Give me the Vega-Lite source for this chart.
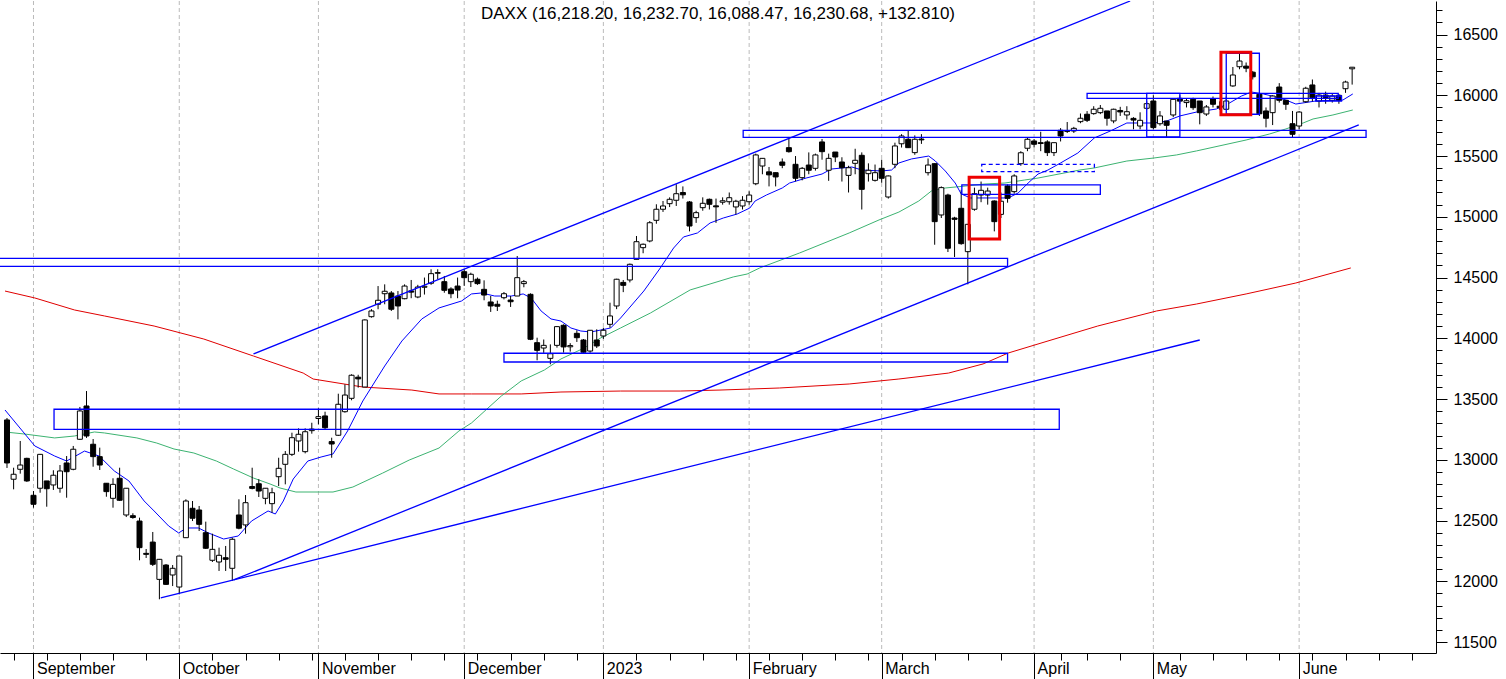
{
  "$schema": "https://vega.github.io/schema/vega-lite/v6.json",
  "width": 1436,
  "height": 652,
  "padding": 0,
  "autosize": {"type": "pad"},
  "background": "white",
  "title": {
    "text": "DAXX (16,218.20, 16,232.70, 16,088.47, 16,230.68, +132.810)",
    "offset": -22,
    "anchor": "middle",
    "font": "Liberation Sans",
    "fontSize": 17,
    "fontWeight": "normal",
    "color": "black"
  },
  "datasets": {
    "months": [
      {"i": 0}, {"i": 22}, {"i": 43}, {"i": 65}, {"i": 86},
      {"i": 108}, {"i": 128}, {"i": 151}, {"i": 169}, {"i": 191}
    ],
    "candles": [
      {"i":-4,"o":13328,"h":13344,"l":12933,"c":12974},
      {"i":-3,"o":12840,"h":12935,"l":12757,"c":12881},
      {"i":-2,"o":12922,"h":13155,"l":12886,"c":12957},
      {"i":-1,"o":13012,"h":13017,"l":12818,"c":12826},
      {"i":0,"o":12708,"h":12743,"l":12606,"c":12634},
      {"i":1,"o":12766,"h":13048,"l":12729,"c":13045},
      {"i":2,"o":12826,"h":12826,"l":12614,"c":12762},
      {"i":3,"o":12793,"h":12914,"l":12752,"c":12873},
      {"i":4,"o":12766,"h":12957,"l":12729,"c":12908},
      {"i":5,"o":12974,"h":13031,"l":12688,"c":12902},
      {"i":6,"o":12922,"h":13114,"l":12914,"c":13087},
      {"i":7,"o":13169,"h":13435,"l":13163,"c":13402},
      {"i":8,"o":13443,"h":13566,"l":13180,"c":13196},
      {"i":9,"o":13128,"h":13171,"l":12943,"c":13026},
      {"i":10,"o":13026,"h":13100,"l":12916,"c":12957},
      {"i":11,"o":12807,"h":12809,"l":12696,"c":12738},
      {"i":12,"o":12683,"h":12848,"l":12606,"c":12798},
      {"i":13,"o":12848,"h":12935,"l":12661,"c":12667},
      {"i":14,"o":12546,"h":12768,"l":12529,"c":12766},
      {"i":15,"o":12540,"h":12560,"l":12515,"c":12525},
      {"i":16,"o":12496,"h":12524,"l":12173,"c":12277},
      {"i":17,"o":12230,"h":12266,"l":12192,"c":12222},
      {"i":18,"o":12323,"h":12406,"l":12126,"c":12140},
      {"i":19,"o":12016,"h":12184,"l":11852,"c":12181},
      {"i":20,"o":12134,"h":12142,"l":11970,"c":11975},
      {"i":21,"o":12052,"h":12134,"l":11961,"c":12107},
      {"i":22,"o":11953,"h":12208,"l":11893,"c":12208},
      {"i":23,"o":12359,"h":12675,"l":12359,"c":12661},
      {"i":24,"o":12601,"h":12661,"l":12496,"c":12519},
      {"i":25,"o":12587,"h":12620,"l":12414,"c":12469},
      {"i":26,"o":12400,"h":12491,"l":12266,"c":12272},
      {"i":27,"o":12173,"h":12392,"l":12159,"c":12263},
      {"i":28,"o":12159,"h":12277,"l":12085,"c":12214},
      {"i":29,"o":12194,"h":12291,"l":12085,"c":12181},
      {"i":30,"o":12107,"h":12359,"l":12003,"c":12346},
      {"i":31,"o":12546,"h":12675,"l":12428,"c":12437},
      {"i":32,"o":12464,"h":12710,"l":12392,"c":12647},
      {"i":33,"o":12780,"h":12935,"l":12757,"c":12765},
      {"i":34,"o":12803,"h":12840,"l":12694,"c":12743},
      {"i":35,"o":12683,"h":12768,"l":12634,"c":12766},
      {"i":36,"o":12639,"h":12770,"l":12565,"c":12729},
      {"i":37,"o":12861,"h":13017,"l":12784,"c":12930},
      {"i":38,"o":12963,"h":13072,"l":12798,"c":13045},
      {"i":39,"o":13045,"h":13223,"l":13031,"c":13182},
      {"i":40,"o":13155,"h":13259,"l":13067,"c":13210},
      {"i":41,"o":13067,"h":13259,"l":13053,"c":13231},
      {"i":42,"o":13240,"h":13305,"l":13215,"c":13253},
      {"i":43,"o":13340,"h":13424,"l":13292,"c":13355},
      {"i":44,"o":13361,"h":13396,"l":13251,"c":13264},
      {"i":45,"o":13150,"h":13182,"l":13017,"c":13130},
      {"i":46,"o":13202,"h":13544,"l":13196,"c":13457},
      {"i":47,"o":13396,"h":13621,"l":13388,"c":13533},
      {"i":48,"o":13506,"h":13704,"l":13490,"c":13696},
      {"i":49,"o":13680,"h":13700,"l":13594,"c":13666},
      {"i":50,"o":13599,"h":14156,"l":13599,"c":14151},
      {"i":51,"o":14178,"h":14240,"l":14170,"c":14225},
      {"i":52,"o":14280,"h":14430,"l":14239,"c":14313},
      {"i":53,"o":14367,"h":14444,"l":14280,"c":14387},
      {"i":54,"o":14373,"h":14389,"l":14225,"c":14239},
      {"i":55,"o":14348,"h":14389,"l":14156,"c":14266},
      {"i":56,"o":14326,"h":14444,"l":14321,"c":14430},
      {"i":57,"o":14390,"h":14480,"l":14330,"c":14380},
      {"i":58,"o":14340,"h":14440,"l":14330,"c":14422},
      {"i":59,"o":14420,"h":14500,"l":14360,"c":14428},
      {"i":60,"o":14453,"h":14568,"l":14440,"c":14532},
      {"i":61,"o":14535,"h":14568,"l":14486,"c":14541},
      {"i":62,"o":14466,"h":14513,"l":14375,"c":14395},
      {"i":63,"o":14406,"h":14420,"l":14330,"c":14367},
      {"i":64,"o":14430,"h":14500,"l":14330,"c":14397},
      {"i":65,"o":14548,"h":14568,"l":14431,"c":14499},
      {"i":66,"o":14466,"h":14540,"l":14422,"c":14527},
      {"i":67,"o":14486,"h":14500,"l":14440,"c":14450},
      {"i":68,"o":14403,"h":14477,"l":14313,"c":14356},
      {"i":69,"o":14299,"h":14348,"l":14217,"c":14266},
      {"i":70,"o":14280,"h":14310,"l":14225,"c":14264},
      {"i":71,"o":14334,"h":14381,"l":14320,"c":14367},
      {"i":72,"o":14315,"h":14348,"l":14258,"c":14301},
      {"i":73,"o":14348,"h":14677,"l":14348,"c":14499},
      {"i":74,"o":14450,"h":14480,"l":14420,"c":14466},
      {"i":75,"o":14362,"h":14370,"l":13985,"c":13992},
      {"i":76,"o":13964,"h":14005,"l":13819,"c":13901},
      {"i":77,"o":13920,"h":13990,"l":13880,"c":13942},
      {"i":78,"o":13835,"h":13950,"l":13786,"c":13873},
      {"i":79,"o":13942,"h":14101,"l":13923,"c":14096},
      {"i":80,"o":14107,"h":14115,"l":13882,"c":13929},
      {"i":81,"o":13930,"h":13960,"l":13890,"c":13940},
      {"i":82,"o":14041,"h":14066,"l":13970,"c":14005},
      {"i":83,"o":13986,"h":13994,"l":13872,"c":13885},
      {"i":84,"o":13895,"h":14068,"l":13881,"c":14066},
      {"i":85,"o":13986,"h":14074,"l":13920,"c":13937},
      {"i":86,"o":14019,"h":14087,"l":13995,"c":14066},
      {"i":87,"o":14115,"h":14293,"l":14087,"c":14184},
      {"i":88,"o":14266,"h":14490,"l":14240,"c":14486},
      {"i":89,"o":14460,"h":14480,"l":14380,"c":14436},
      {"i":90,"o":14480,"h":14615,"l":14460,"c":14609},
      {"i":91,"o":14650,"h":14842,"l":14650,"c":14795},
      {"i":92,"o":14746,"h":14780,"l":14700,"c":14774},
      {"i":93,"o":14801,"h":14965,"l":14790,"c":14951},
      {"i":94,"o":14971,"h":15103,"l":14943,"c":15062},
      {"i":95,"o":15062,"h":15130,"l":15040,"c":15089},
      {"i":96,"o":15108,"h":15160,"l":15080,"c":15144},
      {"i":97,"o":15136,"h":15268,"l":15089,"c":15190},
      {"i":98,"o":15200,"h":15250,"l":15150,"c":15181},
      {"i":99,"o":15122,"h":15130,"l":14880,"c":14924},
      {"i":100,"o":14993,"h":15050,"l":14950,"c":15034},
      {"i":101,"o":15075,"h":15160,"l":15050,"c":15111},
      {"i":102,"o":15144,"h":15150,"l":15060,"c":15103},
      {"i":103,"o":15090,"h":15150,"l":14950,"c":15082},
      {"i":104,"o":15120,"h":15160,"l":15100,"c":15132},
      {"i":105,"o":15124,"h":15200,"l":15100,"c":15157},
      {"i":106,"o":15081,"h":15140,"l":15020,"c":15128},
      {"i":107,"o":15089,"h":15170,"l":15060,"c":15136},
      {"i":108,"o":15124,"h":15210,"l":15100,"c":15179},
      {"i":109,"o":15272,"h":15520,"l":15260,"c":15509},
      {"i":110,"o":15418,"h":15481,"l":15350,"c":15481},
      {"i":111,"o":15370,"h":15410,"l":15250,"c":15345},
      {"i":112,"o":15363,"h":15365,"l":15250,"c":15328},
      {"i":113,"o":15451,"h":15480,"l":15400,"c":15424},
      {"i":114,"o":15569,"h":15657,"l":15528,"c":15536},
      {"i":115,"o":15432,"h":15500,"l":15292,"c":15317},
      {"i":116,"o":15322,"h":15410,"l":15300,"c":15399},
      {"i":117,"o":15426,"h":15530,"l":15350,"c":15383},
      {"i":118,"o":15399,"h":15520,"l":15380,"c":15509},
      {"i":119,"o":15616,"h":15640,"l":15470,"c":15536},
      {"i":120,"o":15383,"h":15520,"l":15296,"c":15481},
      {"i":121,"o":15533,"h":15533,"l":15450,"c":15492},
      {"i":122,"o":15451,"h":15490,"l":15290,"c":15404},
      {"i":123,"o":15341,"h":15420,"l":15200,"c":15404},
      {"i":124,"o":15440,"h":15560,"l":15350,"c":15465},
      {"i":125,"o":15506,"h":15530,"l":15060,"c":15226},
      {"i":126,"o":15355,"h":15440,"l":15290,"c":15383},
      {"i":127,"o":15300,"h":15430,"l":15290,"c":15363},
      {"i":128,"o":15399,"h":15470,"l":15280,"c":15317},
      {"i":129,"o":15163,"h":15340,"l":15150,"c":15336},
      {"i":130,"o":15432,"h":15610,"l":15400,"c":15583},
      {"i":131,"o":15601,"h":15680,"l":15570,"c":15665},
      {"i":132,"o":15638,"h":15706,"l":15566,"c":15569},
      {"i":133,"o":15528,"h":15670,"l":15510,"c":15638},
      {"i":134,"o":15640,"h":15680,"l":15600,"c":15633},
      {"i":135,"o":15363,"h":15480,"l":15340,"c":15426},
      {"i":136,"o":15437,"h":15440,"l":14770,"c":14960},
      {"i":137,"o":15015,"h":15250,"l":14990,"c":15240},
      {"i":138,"o":15179,"h":15190,"l":14710,"c":14741},
      {"i":139,"o":14990,"h":15000,"l":14669,"c":14979},
      {"i":140,"o":15070,"h":15222,"l":14770,"c":14779},
      {"i":141,"o":14713,"h":14941,"l":14444,"c":14938},
      {"i":142,"o":15062,"h":15240,"l":15050,"c":15190},
      {"i":143,"o":15179,"h":15290,"l":15120,"c":15218},
      {"i":144,"o":15179,"h":15240,"l":15100,"c":15212},
      {"i":145,"o":15130,"h":15135,"l":14880,"c":14960},
      {"i":146,"o":15020,"h":15200,"l":14990,"c":15128},
      {"i":147,"o":15254,"h":15267,"l":15116,"c":15152},
      {"i":148,"o":15207,"h":15350,"l":15190,"c":15336},
      {"i":149,"o":15437,"h":15540,"l":15420,"c":15527},
      {"i":150,"o":15564,"h":15650,"l":15540,"c":15638},
      {"i":151,"o":15624,"h":15640,"l":15570,"c":15597},
      {"i":152,"o":15610,"h":15700,"l":15540,"c":15603},
      {"i":153,"o":15616,"h":15630,"l":15500,"c":15528},
      {"i":154,"o":15528,"h":15610,"l":15500,"c":15610},
      {"i":155,"o":15712,"h":15730,"l":15620,"c":15665},
      {"i":156,"o":15710,"h":15780,"l":15690,"c":15703},
      {"i":157,"o":15706,"h":15740,"l":15690,"c":15728},
      {"i":158,"o":15783,"h":15850,"l":15770,"c":15811},
      {"i":159,"o":15844,"h":15870,"l":15780,"c":15794},
      {"i":160,"o":15849,"h":15910,"l":15840,"c":15885},
      {"i":161,"o":15857,"h":15920,"l":15845,"c":15893},
      {"i":162,"o":15871,"h":15871,"l":15750,"c":15811},
      {"i":163,"o":15789,"h":15890,"l":15770,"c":15885},
      {"i":164,"o":15875,"h":15905,"l":15830,"c":15863},
      {"i":165,"o":15838,"h":15910,"l":15800,"c":15865},
      {"i":166,"o":15810,"h":15820,"l":15720,"c":15796},
      {"i":167,"o":15747,"h":15860,"l":15720,"c":15794},
      {"i":168,"o":15893,"h":15950,"l":15880,"c":15931},
      {"i":169,"o":15953,"h":16000,"l":15720,"c":15734},
      {"i":170,"o":15766,"h":15870,"l":15750,"c":15830},
      {"i":171,"o":15788,"h":15790,"l":15650,"c":15753},
      {"i":172,"o":15838,"h":15970,"l":15820,"c":15967},
      {"i":173,"o":15975,"h":16000,"l":15930,"c":15952},
      {"i":174,"o":15940,"h":15970,"l":15900,"c":15955},
      {"i":175,"o":15967,"h":15980,"l":15880,"c":15898},
      {"i":176,"o":15953,"h":15953,"l":15761,"c":15857},
      {"i":177,"o":15846,"h":15920,"l":15830,"c":15904},
      {"i":178,"o":15972,"h":15990,"l":15900,"c":15926},
      {"i":179,"o":15910,"h":15950,"l":15880,"c":15897},
      {"i":180,"o":15885,"h":15990,"l":15880,"c":15953},
      {"i":181,"o":16077,"h":16233,"l":16070,"c":16167},
      {"i":182,"o":16235,"h":16342,"l":16214,"c":16282},
      {"i":183,"o":16240,"h":16270,"l":16190,"c":16223},
      {"i":184,"o":16190,"h":16200,"l":16130,"c":16152},
      {"i":185,"o":16008,"h":16020,"l":15830,"c":15848},
      {"i":186,"o":15871,"h":15900,"l":15736,"c":15811},
      {"i":187,"o":15857,"h":16000,"l":15755,"c":15994},
      {"i":188,"o":16068,"h":16100,"l":15940,"c":15959},
      {"i":189,"o":15959,"h":15960,"l":15880,"c":15926},
      {"i":190,"o":15766,"h":15871,"l":15651,"c":15679},
      {"i":191,"o":15747,"h":15870,"l":15720,"c":15862},
      {"i":192,"o":15947,"h":16070,"l":15940,"c":16058},
      {"i":193,"o":16085,"h":16130,"l":15950,"c":15980},
      {"i":194,"o":15953,"h":16020,"l":15900,"c":16002},
      {"i":195,"o":16002,"h":16030,"l":15930,"c":15980},
      {"i":196,"o":15959,"h":16010,"l":15940,"c":15994},
      {"i":197,"o":16000,"h":16010,"l":15930,"c":15959},
      {"i":198,"o":16054,"h":16120,"l":16020,"c":16109},
      {"i":199,"o":16218,"h":16233,"l":16088,"c":16231}
    ],
    "ma": [
      {"s":"red","i":-4.3,"v":14389},{"s":"red","i":0.2,"v":14332},{"s":"red","i":6.2,"v":14233},
      {"s":"red","i":10.7,"v":14184},{"s":"red","i":18.2,"v":14101},{"s":"red","i":25.7,"v":13994},
      {"s":"red","i":33.2,"v":13854},{"s":"red","i":40.7,"v":13714},{"s":"red","i":42.2,"v":13665},
      {"s":"red","i":49.7,"v":13599},{"s":"red","i":57.1,"v":13574},{"s":"red","i":61.2,"v":13542},
      {"s":"red","i":66.1,"v":13542},{"s":"red","i":73.6,"v":13542},{"s":"red","i":79.6,"v":13558},
      {"s":"red","i":88.6,"v":13566},{"s":"red","i":97.6,"v":13566},{"s":"red","i":103.6,"v":13574},
      {"s":"red","i":112.6,"v":13591},{"s":"red","i":123.1,"v":13624},{"s":"red","i":130.6,"v":13665},
      {"s":"red","i":138.1,"v":13714},{"s":"red","i":143.3,"v":13789},{"s":"red","i":147.1,"v":13879},
      {"s":"red","i":153.1,"v":13978},{"s":"red","i":160.6,"v":14101},{"s":"red","i":169.5,"v":14225},
      {"s":"red","i":175.5,"v":14282},{"s":"red","i":183.0,"v":14365},{"s":"red","i":190.5,"v":14455},
      {"s":"red","i":198.8,"v":14579},

      {"s":"green","i":-4.3,"v":13229},{"s":"green","i":-1.3,"v":13212},{"s":"green","i":3.2,"v":13180},
      {"s":"green","i":6.2,"v":13196},{"s":"green","i":9.2,"v":13229},{"s":"green","i":10.7,"v":13221},
      {"s":"green","i":15.6,"v":13180},{"s":"green","i":18.6,"v":13138},{"s":"green","i":21.2,"v":13089},
      {"s":"green","i":24.2,"v":13056},{"s":"green","i":27.6,"v":12990},{"s":"green","i":30.2,"v":12924},
      {"s":"green","i":33.2,"v":12850},{"s":"green","i":35.7,"v":12801},{"s":"green","i":37.2,"v":12768},
      {"s":"green","i":39.6,"v":12735},{"s":"green","i":45.2,"v":12735},{"s":"green","i":48.2,"v":12776},
      {"s":"green","i":52.7,"v":12891},{"s":"green","i":56.7,"v":12998},{"s":"green","i":61.2,"v":13097},
      {"s":"green","i":64.2,"v":13237},{"s":"green","i":66.1,"v":13303},{"s":"green","i":70.6,"v":13525},
      {"s":"green","i":73.6,"v":13649},{"s":"green","i":77.1,"v":13739},{"s":"green","i":79.6,"v":13830},
      {"s":"green","i":83.1,"v":13920},{"s":"green","i":85.6,"v":14003},{"s":"green","i":88.6,"v":14085},
      {"s":"green","i":93.1,"v":14208},{"s":"green","i":99.1,"v":14398},{"s":"green","i":102.1,"v":14447},
      {"s":"green","i":105.6,"v":14505},{"s":"green","i":107.7,"v":14529},{"s":"green","i":109.6,"v":14579},
      {"s":"green","i":115.6,"v":14702},{"s":"green","i":123.1,"v":14867},{"s":"green","i":127.6,"v":14974},
      {"s":"green","i":130.6,"v":15039},{"s":"green","i":133.6,"v":15130},{"s":"green","i":135.5,"v":15212},
      {"s":"green","i":137.6,"v":15237},{"s":"green","i":140.6,"v":15253},{"s":"green","i":143.6,"v":15270},
      {"s":"green","i":146.6,"v":15278},{"s":"green","i":149.6,"v":15303},{"s":"green","i":151.6,"v":15319},
      {"s":"green","i":157.9,"v":15385},{"s":"green","i":160.1,"v":15402},{"s":"green","i":165.0,"v":15459},
      {"s":"green","i":169.1,"v":15484},{"s":"green","i":172.5,"v":15509},{"s":"green","i":175.5,"v":15542},
      {"s":"green","i":183.0,"v":15632},{"s":"green","i":186.5,"v":15681},{"s":"green","i":189.0,"v":15723},
      {"s":"green","i":191.6,"v":15772},{"s":"green","i":193.1,"v":15805},{"s":"green","i":196.1,"v":15838},
      {"s":"green","i":199.1,"v":15879},

      {"s":"blue","i":-4.3,"v":13410},{"s":"blue","i":0.2,"v":13114},{"s":"blue","i":3.2,"v":13031},
      {"s":"blue","i":5.0,"v":12990},{"s":"blue","i":7.7,"v":13072},{"s":"blue","i":9.9,"v":13031},
      {"s":"blue","i":12.2,"v":12908},{"s":"blue","i":14.4,"v":12826},{"s":"blue","i":16.7,"v":12661},
      {"s":"blue","i":18.2,"v":12579},{"s":"blue","i":20.4,"v":12455},{"s":"blue","i":21.9,"v":12398},
      {"s":"blue","i":23.1,"v":12439},{"s":"blue","i":24.9,"v":12439},{"s":"blue","i":26.4,"v":12398},
      {"s":"blue","i":28.7,"v":12348},{"s":"blue","i":30.9,"v":12373},{"s":"blue","i":32.9,"v":12496},
      {"s":"blue","i":35.4,"v":12579},{"s":"blue","i":36.5,"v":12554},{"s":"blue","i":37.7,"v":12661},
      {"s":"blue","i":39.2,"v":12842},{"s":"blue","i":41.4,"v":12990},{"s":"blue","i":43.4,"v":13023},
      {"s":"blue","i":45.2,"v":13048},{"s":"blue","i":47.4,"v":13237},{"s":"blue","i":49.7,"v":13484},
      {"s":"blue","i":53.0,"v":13772},{"s":"blue","i":55.6,"v":13978},{"s":"blue","i":58.6,"v":14159},
      {"s":"blue","i":61.2,"v":14250},{"s":"blue","i":64.6,"v":14307},{"s":"blue","i":66.1,"v":14365},
      {"s":"blue","i":67.6,"v":14373},{"s":"blue","i":69.6,"v":14348},{"s":"blue","i":72.1,"v":14348},
      {"s":"blue","i":73.9,"v":14365},{"s":"blue","i":75.1,"v":14332},{"s":"blue","i":76.6,"v":14225},
      {"s":"blue","i":78.1,"v":14159},{"s":"blue","i":79.6,"v":14142},{"s":"blue","i":81.1,"v":14085},
      {"s":"blue","i":82.6,"v":14060},{"s":"blue","i":84.1,"v":14052},{"s":"blue","i":85.6,"v":14068},
      {"s":"blue","i":87.1,"v":14085},{"s":"blue","i":88.6,"v":14167},{"s":"blue","i":92.1,"v":14389},
      {"s":"blue","i":94.6,"v":14579},{"s":"blue","i":96.6,"v":14743},{"s":"blue","i":98.1,"v":14834},
      {"s":"blue","i":100.2,"v":14867},{"s":"blue","i":102.1,"v":14949},{"s":"blue","i":104.1,"v":14990},
      {"s":"blue","i":106.2,"v":15023},{"s":"blue","i":108.1,"v":15072},{"s":"blue","i":108.9,"v":15130},
      {"s":"blue","i":110.6,"v":15179},{"s":"blue","i":113.0,"v":15237},{"s":"blue","i":114.1,"v":15278},
      {"s":"blue","i":116.6,"v":15319},{"s":"blue","i":119.0,"v":15352},{"s":"blue","i":120.4,"v":15393},
      {"s":"blue","i":123.5,"v":15410},{"s":"blue","i":125.0,"v":15385},{"s":"blue","i":128.0,"v":15377},
      {"s":"blue","i":129.5,"v":15385},{"s":"blue","i":130.6,"v":15443},{"s":"blue","i":132.5,"v":15476},
      {"s":"blue","i":135.1,"v":15500},{"s":"blue","i":136.1,"v":15459},{"s":"blue","i":137.6,"v":15377},
      {"s":"blue","i":139.1,"v":15278},{"s":"blue","i":140.0,"v":15188},{"s":"blue","i":141.4,"v":15155},
      {"s":"blue","i":147.1,"v":15155},{"s":"blue","i":148.6,"v":15196},{"s":"blue","i":150.1,"v":15278},
      {"s":"blue","i":151.6,"v":15352},{"s":"blue","i":153.1,"v":15385},{"s":"blue","i":155.0,"v":15443},
      {"s":"blue","i":157.6,"v":15525},{"s":"blue","i":160.1,"v":15649},{"s":"blue","i":162.5,"v":15706},
      {"s":"blue","i":165.0,"v":15772},{"s":"blue","i":169.1,"v":15772},{"s":"blue","i":171.0,"v":15788},
      {"s":"blue","i":173.0,"v":15830},{"s":"blue","i":175.5,"v":15862},{"s":"blue","i":178.5,"v":15887},
      {"s":"blue","i":180.5,"v":15937},{"s":"blue","i":182.3,"v":15994},{"s":"blue","i":183.8,"v":16027},
      {"s":"blue","i":185.6,"v":16011},{"s":"blue","i":187.5,"v":15986},{"s":"blue","i":189.0,"v":15961},
      {"s":"blue","i":190.5,"v":15928},{"s":"blue","i":193.5,"v":15953},{"s":"blue","i":197.6,"v":15961},
      {"s":"blue","i":199.1,"v":16011}
    ],
    "trend": [
      {"i":33.2,"v":13871,"i2":165.5,"v2":16776},
      {"i":19.2,"v":11863,"i2":176.0,"v2":13986},
      {"i":30.2,"v":12011,"i2":200.0,"v2":15756}
    ],
    "boxes": [
      {"k":"b","i":3.1,"i2":154.8,"v":13416,"v2":13251},
      {"k":"b","i":71.0,"i2":147.0,"v":13877,"v2":13805},
      {"k":"b","i":-6,"i2":147.0,"v":14658,"v2":14592},
      {"k":"b","i":107.1,"i2":201.1,"v":15712,"v2":15654},
      {"k":"b","i":140.1,"i2":161.0,"v":15262,"v2":15185},
      {"k":"d","i":143.1,"i2":160.1,"v":15432,"v2":15371},
      {"k":"b","i":159.0,"i2":196.9,"v":16016,"v2":15975},
      {"k":"b","i":168.0,"i2":173.0,"v":16016,"v2":15657},
      {"k":"b","i":180.0,"i2":185.0,"v":16346,"v2":15844},
      {"k":"b","i":193.5,"i2":197.4,"v":15994,"v2":15953},
      {"k":"r","i":141.2,"i2":145.8,"v":15325,"v2":14817},
      {"k":"r","i":179.2,"i2":183.7,"v":16354,"v2":15840}
    ]
  },
  "layer": [
    {
      "data": {"name": "months"},
      "mark": {"type": "rule", "color": "#bbbbbb", "strokeDash": [4, 3], "strokeWidth": 1},
      "encoding": {
        "x": {
          "field": "i",
          "type": "quantitative",
          "title": null,
          "scale": {"domain": [-4.3, 210.9], "nice": false, "zero": false},
          "axis": {
            "orient": "bottom",
            "grid": false,
            "tickCount": 1000,
            "values": [-3, 0, 2, 7, 12, 17, 22, 27, 32, 37, 42, 43, 47, 52, 57, 62, 65, 67, 72, 77, 82, 86, 91, 96, 101, 106, 108, 111, 116, 121, 126, 128, 131, 136, 141, 146, 151, 155, 159, 164, 169, 173, 178, 183, 188, 191, 193, 198, 203, 208],
            "labelExpr": "datum.value == 0 ? 'September' : datum.value == 22 ? 'October' : datum.value == 43 ? 'November' : datum.value == 65 ? 'December' : datum.value == 86 ? '2023' : datum.value == 108 ? 'February' : datum.value == 128 ? 'March' : datum.value == 151 ? 'April' : datum.value == 169 ? 'May' : datum.value == 191 ? 'June' : ''",
            "tickSize": {"condition": {"test": "indexof([0,22,43,65,86,108,128,151,169,191], datum.value) >= 0", "value": 27}, "value": 7},
            "tickColor": "black",
            "domainColor": "black",
            "labelColor": "black",
            "labelFont": "Liberation Sans",
            "labelFontSize": 16,
            "labelAlign": "left",
            "labelBaseline": "alphabetic",
            "labelOffset": 3,
            "labelPadding": -7,
            "labelOverlap": false,
            "labelBound": false,
            "labelFlush": false
          }
        }
      }
    },
    {
      "data": {"name": "ma"},
      "mark": {"type": "line", "strokeWidth": 1, "clip": true},
      "encoding": {
        "x": {"field": "i", "type": "quantitative", "title": null},
        "y": {
          "field": "v",
          "type": "quantitative",
          "title": null,
          "scale": {"domain": [11410, 16776], "nice": false, "zero": false},
          "axis": {
            "orient": "right",
            "grid": false,
            "tickCount": 1000,
            "values": [11500, 11600, 11700, 11800, 11900, 12000, 12100, 12200, 12300, 12400, 12500, 12600, 12700, 12800, 12900, 13000, 13100, 13200, 13300, 13400, 13500, 13600, 13700, 13800, 13900, 14000, 14100, 14200, 14300, 14400, 14500, 14600, 14700, 14800, 14900, 15000, 15100, 15200, 15300, 15400, 15500, 15600, 15700, 15800, 15900, 16000, 16100, 16200, 16300, 16400, 16500, 16600, 16700],
            "format": "d",
            "labelExpr": "datum.value % 500 === 0 ? datum.label : ''",
            "tickSize": {"condition": {"test": "datum.value % 500 === 0", "value": 11}, "value": 6},
            "tickColor": "black",
            "domainColor": "black",
            "labelColor": "black",
            "labelFont": "Liberation Sans",
            "labelFontSize": 16,
            "labelPadding": 6,
            "labelOverlap": false,
            "labelBound": false,
            "labelFlush": false
          }
        },
        "color": {
          "field": "s",
          "type": "nominal",
          "legend": null,
          "scale": {"domain": ["red", "green", "blue"], "range": ["#e00000", "#3cb371", "#0000ff"]}
        }
      }
    },
    {
      "data": {"name": "candles"},
      "mark": {"type": "rule", "color": "black", "strokeWidth": 1, "clip": true},
      "encoding": {
        "x": {"field": "i", "type": "quantitative", "title": null},
        "y": {"field": "l", "type": "quantitative", "title": null},
        "y2": {"field": "h"}
      }
    },
    {
      "data": {"name": "candles"},
      "mark": {"type": "bar", "width": 5, "stroke": "black", "strokeWidth": 1, "clip": true},
      "encoding": {
        "x": {"field": "i", "type": "quantitative", "title": null},
        "y": {"field": "o", "type": "quantitative", "title": null},
        "y2": {"field": "c"},
        "fill": {"condition": {"test": "datum.c >= datum.o", "value": "white"}, "value": "black"}
      }
    },
    {
      "data": {"name": "trend"},
      "mark": {"type": "rule", "color": "#0000ff", "strokeWidth": 1.3, "clip": true},
      "encoding": {
        "x": {"field": "i", "type": "quantitative", "title": null},
        "x2": {"field": "i2"},
        "y": {"field": "v", "type": "quantitative", "title": null},
        "y2": {"field": "v2"}
      }
    },
    {
      "data": {"name": "boxes"},
      "transform": [{"filter": "datum.k == 'b'"}],
      "mark": {"type": "rect", "filled": false, "stroke": "#0000ff", "strokeWidth": 1.3, "clip": true},
      "encoding": {
        "x": {"field": "i", "type": "quantitative", "title": null},
        "x2": {"field": "i2"},
        "y": {"field": "v", "type": "quantitative", "title": null},
        "y2": {"field": "v2"}
      }
    },
    {
      "data": {"name": "boxes"},
      "transform": [{"filter": "datum.k == 'd'"}],
      "mark": {"type": "rect", "filled": false, "stroke": "#0000ff", "strokeWidth": 1.3, "strokeDash": [4, 3], "clip": true},
      "encoding": {
        "x": {"field": "i", "type": "quantitative", "title": null},
        "x2": {"field": "i2"},
        "y": {"field": "v", "type": "quantitative", "title": null},
        "y2": {"field": "v2"}
      }
    },
    {
      "data": {"name": "boxes"},
      "transform": [{"filter": "datum.k == 'r'"}],
      "mark": {"type": "rect", "filled": false, "stroke": "#ee0000", "strokeWidth": 3, "clip": true},
      "encoding": {
        "x": {"field": "i", "type": "quantitative", "title": null},
        "x2": {"field": "i2"},
        "y": {"field": "v", "type": "quantitative", "title": null},
        "y2": {"field": "v2"}
      }
    }
  ],
  "config": {
    "view": {"stroke": null},
    "axis": {"domainWidth": 1, "tickWidth": 1}
  }
}
